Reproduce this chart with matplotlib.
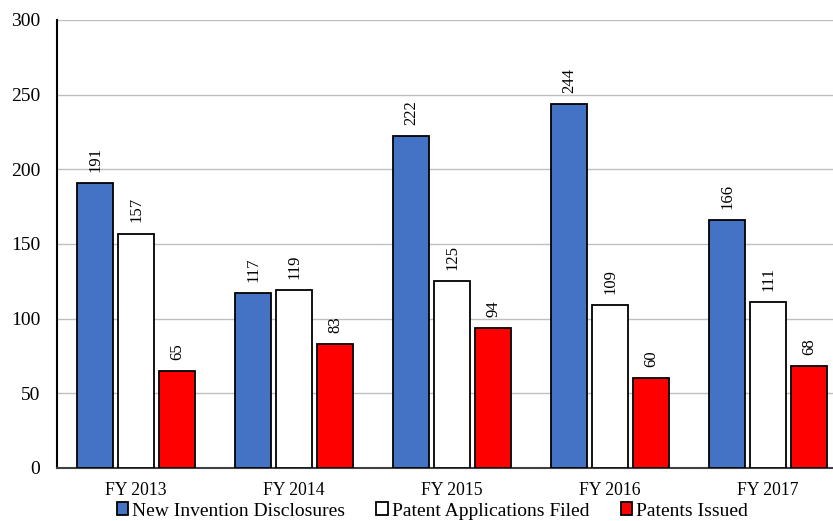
import matplotlib
matplotlib.use("Agg")
import matplotlib.pyplot as plt
import numpy as np

categories = ["FY 2013", "FY 2014", "FY 2015", "FY 2016", "FY 2017"]
disclosures = [191, 117, 222, 244, 166]
applications = [157, 119, 125, 109, 111]
issued = [65, 83, 94, 60, 68]
series_names = ["New Invention Disclosures", "Patent Applications Filed", "Patents Issued"]
colors = ["#4472C4", "#FFFFFF", "#FF0000"]

plt.rcParams['font.family'] = ['Liberation Serif', 'DejaVu Serif']

fig = plt.figure(figsize=(8.33, 5.21), dpi=100)
W, H = 833, 521
left, bottom, top = 57, 468, 20
grp = 158
ax = fig.add_axes([left / W, 1 - bottom / H, grp * 5 / W, (bottom - top) / H])

x = np.arange(len(categories))
bw = 36 / grp
step = 41 / grp
series = [disclosures, applications, issued]
for i, (vals, c, name) in enumerate(zip(series, colors, series_names)):
    pos = x + (i - 1) * step
    bars = ax.bar(pos, vals, width=bw, color=c, edgecolor="black", linewidth=1.3,
                  label=name, zorder=3)
    for b, v in zip(bars, vals):
        ax.annotate(str(v), (b.get_x() + b.get_width() / 2, v), xytext=(0, 8),
                    textcoords="offset points", rotation=90, ha="center",
                    va="bottom", fontsize=12)

ax.set_xlim(-0.5, 4.5)
ax.set_ylim(0, 300)
ax.set_yticks(range(0, 301, 50))
ax.set_xticks(x)
ax.set_xticklabels(categories, fontsize=12.7)
ax.tick_params(axis='y', labelsize=14, length=0, pad=12)
ax.tick_params(axis='x', length=0, pad=10)
ax.grid(axis='y', color="#BFBFBF", linewidth=1, zorder=0)
for s in ["top", "right"]:
    ax.spines[s].set_visible(False)
ax.spines["left"].set_linewidth(1.5)
ax.spines["bottom"].set_linewidth(1.5)
ax.spines["bottom"].set_color("#404040")

leg = fig.legend(loc="center", bbox_to_anchor=(0.519, 1 - 511 / H), ncol=3, frameon=False,
                 fontsize=14, handlelength=0.6, handleheight=0.6, handletextpad=0.2,
                 columnspacing=1.6)

fig.savefig("out.png", dpi=100)
